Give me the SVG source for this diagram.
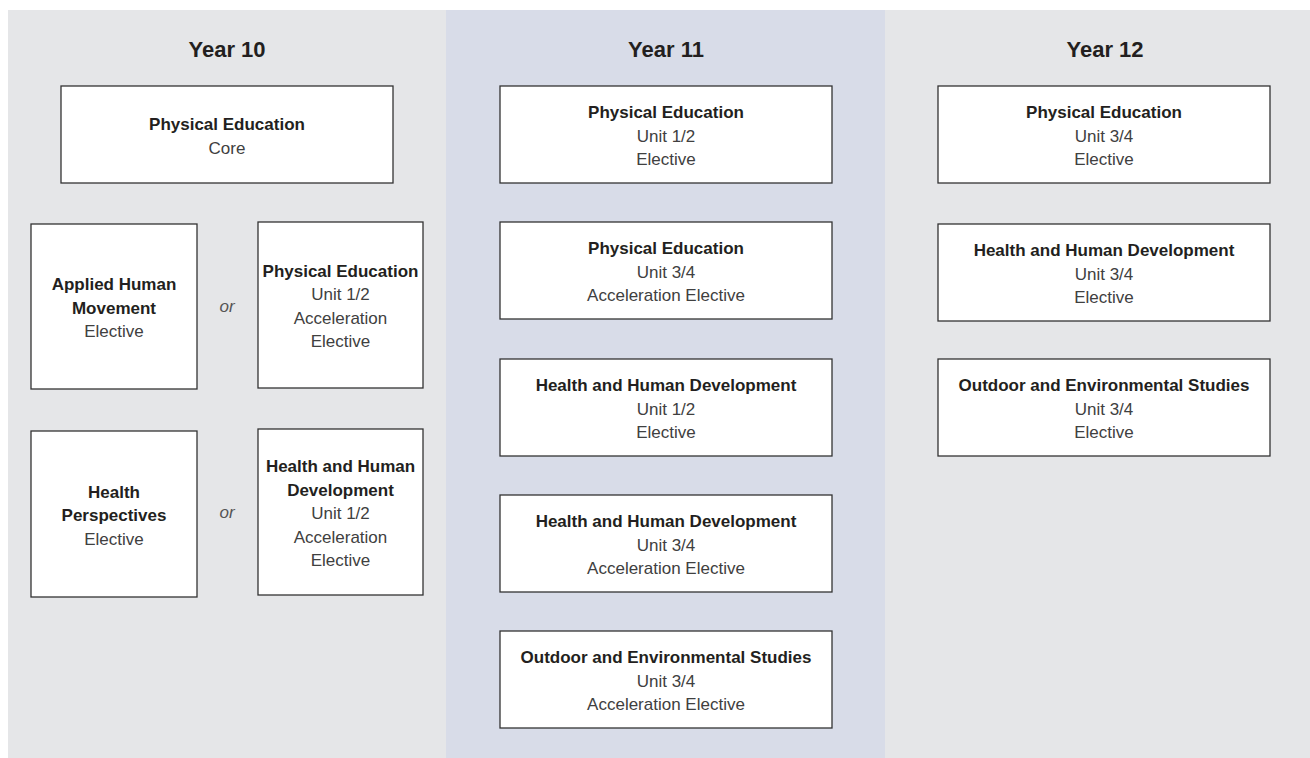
<svg xmlns="http://www.w3.org/2000/svg" width="1310" height="758" viewBox="0 0 1310 758">
<style>
.box{fill:#fff;stroke:#333;stroke-width:1.3}
.t{font-family:"Liberation Sans",Arial,sans-serif;text-anchor:middle}
.h{font-size:22px;font-weight:bold;fill:#231f20}
.b{font-size:17px;font-weight:bold;fill:#231f20}
.r{font-size:17px;fill:#404040}
.or{font-size:17px;font-style:italic;fill:#555}
</style>
<rect width="1310" height="758" fill="#fff"/>
<rect x="8" y="10" width="438" height="748" fill="#e5e6e8"/>
<rect x="446" y="10" width="439" height="748" fill="#d8dce8"/>
<rect x="885" y="10" width="425" height="748" fill="#e5e6e8"/>
<g id="headers" class="t h">
<text x="227" y="57">Year 10</text>
<text x="666" y="57">Year 11</text>
<text x="1105" y="57">Year 12</text>
</g>
<g id="y10-pe-core"><rect class="box" x="61" y="86" width="332" height="97"/>
<text class="t b" x="227" y="130">Physical Education</text>
<text class="t r" x="227" y="153.5">Core</text></g>
<g id="y10-ahm"><rect class="box" x="31" y="224" width="166" height="165"/>
<text class="t b" x="114" y="290">Applied Human</text>
<text class="t b" x="114" y="313.5">Movement</text>
<text class="t r" x="114" y="337">Elective</text></g>
<g id="y10-pe-acc"><rect class="box" x="258" y="222" width="165" height="166"/>
<text class="t b" x="340.5" y="276.5">Physical Education</text>
<text class="t r" x="340.5" y="300">Unit 1/2</text>
<text class="t r" x="340.5" y="323.5">Acceleration</text>
<text class="t r" x="340.5" y="347">Elective</text></g>
<g id="y10-hp"><rect class="box" x="31" y="431" width="166" height="166"/>
<text class="t b" x="114" y="497.5">Health</text>
<text class="t b" x="114" y="521">Perspectives</text>
<text class="t r" x="114" y="544.5">Elective</text></g>
<g id="y10-hhd-acc"><rect class="box" x="258" y="429" width="165" height="166"/>
<text class="t b" x="340.5" y="472">Health and Human</text>
<text class="t b" x="340.5" y="495.5">Development</text>
<text class="t r" x="340.5" y="519">Unit 1/2</text>
<text class="t r" x="340.5" y="542.5">Acceleration</text>
<text class="t r" x="340.5" y="566">Elective</text></g>
<g id="or-labels" class="t or">
<text x="227" y="312">or</text>
<text x="227" y="518">or</text>
</g>
<g id="y11-pe12"><rect class="box" x="500" y="86" width="332" height="97"/>
<text class="t b" x="666" y="118">Physical Education</text>
<text class="t r" x="666" y="141.5">Unit 1/2</text>
<text class="t r" x="666" y="165">Elective</text></g>
<g id="y11-pe34"><rect class="box" x="500" y="222" width="332" height="97"/>
<text class="t b" x="666" y="254">Physical Education</text>
<text class="t r" x="666" y="277.5">Unit 3/4</text>
<text class="t r" x="666" y="301">Acceleration Elective</text></g>
<g id="y11-hhd12"><rect class="box" x="500" y="359" width="332" height="97"/>
<text class="t b" x="666" y="391">Health and Human Development</text>
<text class="t r" x="666" y="414.5">Unit 1/2</text>
<text class="t r" x="666" y="438">Elective</text></g>
<g id="y11-hhd34"><rect class="box" x="500" y="495" width="332" height="97"/>
<text class="t b" x="666" y="527">Health and Human Development</text>
<text class="t r" x="666" y="550.5">Unit 3/4</text>
<text class="t r" x="666" y="574">Acceleration Elective</text></g>
<g id="y11-oes34"><rect class="box" x="500" y="631" width="332" height="97"/>
<text class="t b" x="666" y="663">Outdoor and Environmental Studies</text>
<text class="t r" x="666" y="686.5">Unit 3/4</text>
<text class="t r" x="666" y="710">Acceleration Elective</text></g>
<g id="y12-pe34"><rect class="box" x="938" y="86" width="332" height="97"/>
<text class="t b" x="1104" y="118">Physical Education</text>
<text class="t r" x="1104" y="141.5">Unit 3/4</text>
<text class="t r" x="1104" y="165">Elective</text></g>
<g id="y12-hhd34"><rect class="box" x="938" y="224" width="332" height="97"/>
<text class="t b" x="1104" y="256">Health and Human Development</text>
<text class="t r" x="1104" y="279.5">Unit 3/4</text>
<text class="t r" x="1104" y="303">Elective</text></g>
<g id="y12-oes34"><rect class="box" x="938" y="359" width="332" height="97"/>
<text class="t b" x="1104" y="391">Outdoor and Environmental Studies</text>
<text class="t r" x="1104" y="414.5">Unit 3/4</text>
<text class="t r" x="1104" y="438">Elective</text></g>
<g id="connectors"></g>
</svg>
